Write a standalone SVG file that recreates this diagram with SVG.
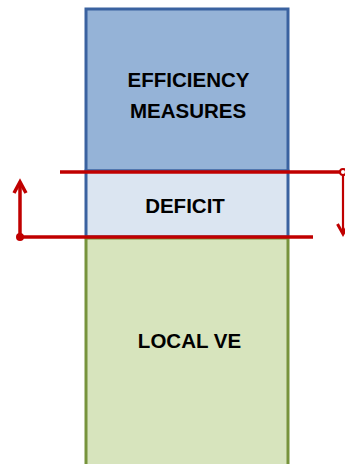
<svg xmlns="http://www.w3.org/2000/svg" width="345" height="464" viewBox="0 0 345 464">
<style>
.t{font-family:"Liberation Sans",Arial,sans-serif;font-weight:bold;font-size:20.5px;fill:#000;text-anchor:middle}
.r{stroke:#c00000;stroke-width:3.5;fill:none}
</style>
<rect width="345" height="464" fill="#fff"/>
<g id="efficiency">
<rect x="86" y="9" width="202" height="162" fill="#95b3d7" stroke="#3a62a0" stroke-width="3"/>
<text class="t" x="188.5" y="87">EFFICIENCY</text>
<text class="t" x="188" y="118">MEASURES</text>
</g>
<g id="deficit">
<rect x="86" y="171" width="202" height="66" fill="#dbe5f1" stroke="#3a62a0" stroke-width="3"/>
<text class="t" x="185" y="212.5">DEFICIT</text>
</g>
<g id="localve">
<rect x="86" y="238" width="202" height="240" fill="#d7e4bd" stroke="#77933c" stroke-width="3"/>
<text class="t" x="189.5" y="347.5">LOCAL VE</text>
</g>
<g id="connectors">
<line class="r" x1="60" y1="172" x2="343" y2="172"/>
<circle cx="343" cy="172" r="3" fill="#fff" stroke="#c00000" stroke-width="2"/>
<line class="r" x1="343" y1="174" x2="343" y2="234" style="stroke-width:2.2"/>
<polyline class="r" points="337.5,224 343,234 348.5,224" style="stroke-width:3"/>
<line class="r" x1="20" y1="237" x2="313" y2="237"/>
<circle cx="20" cy="237" r="4" fill="#c00000"/>
<line class="r" x1="20" y1="237" x2="20" y2="182"/>
<polyline class="r" points="14,193 20,182 26,193"/>
</g>
</svg>
